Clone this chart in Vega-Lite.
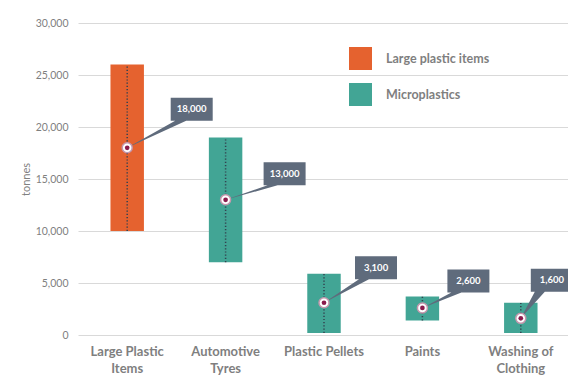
{
  "$schema": "https://vega.github.io/schema/vega-lite/v6.json",
  "autosize": "none",
  "padding": {"left": 78, "top": 23, "right": 0, "bottom": 43},
  "width": 492,
  "height": 312,
  "background": "white",
  "config": {
    "view": {"stroke": null},
    "font": "Lato",
    "axisY": {
      "labelExpr": "format(datum.value, ',')",
      "domain": false,
      "ticks": false,
      "labelPadding": 10,
      "labelFont": "Lato",
      "labelFontSize": 10.5,
      "labelColor": "#7f7f7f",
      "gridColor": "#d9d9d9",
      "gridWidth": 1,
      "titleFont": "Lato",
      "titleFontSize": 11,
      "titleFontWeight": "normal",
      "titleColor": "#7f7f7f",
      "titlePadding": 4
    }
  },
  "data": {
    "values": [
      {"source": "Large Plastic Items", "type": "Large plastic items", "low": 10000, "high": 26000, "mid": 18000},
      {"source": "Automotive Tyres", "type": "Microplastics", "low": 7000, "high": 19000, "mid": 13000},
      {"source": "Plastic Pellets", "type": "Microplastics", "low": 200, "high": 5900, "mid": 3100},
      {"source": "Paints", "type": "Microplastics", "low": 1400, "high": 3700, "mid": 2600},
      {"source": "Washing of Clothing", "type": "Microplastics", "low": 200, "high": 3100, "mid": 1600}
    ]
  },
  "encoding": {
    "x": {
      "field": "source",
      "type": "nominal",
      "sort": null,
      "scale": {"paddingInner": 0.66, "paddingOuter": 0.33},
      "axis": {
        "title": null,
        "domain": false,
        "ticks": false,
        "labelAngle": 0,
        "labelPadding": 10,
        "labelFont": "Lato",
        "labelFontSize": 13,
        "labelFontWeight": "bold",
        "labelColor": "#7f7f7f",
        "labelLineHeight": 17,
        "labelExpr": "datum.label == 'Large Plastic Items' ? ['Large Plastic', 'Items'] : datum.label == 'Automotive Tyres' ? ['Automotive', 'Tyres'] : datum.label == 'Washing of Clothing' ? ['Washing of', 'Clothing'] : datum.label"
      }
    }
  },
  "layer": [
    {
      "mark": {"type": "bar"},
      "encoding": {
        "y": {
          "field": "low",
          "type": "quantitative",
          "scale": {"domain": [0, 30000], "nice": false},
          "axis": {
            "title": "tonnes",
            "values": [0, 5000, 10000, 15000, 20000, 25000, 30000],
            "labelExpr": "format(datum.value, ',')"
          }
        },
        "y2": {"field": "high"},
        "color": {
          "field": "type",
          "type": "nominal",
          "scale": {
            "domain": ["Large plastic items", "Microplastics"],
            "range": ["#e5622f", "#42a595"]
          },
          "legend": {
            "title": null,
            "orient": "none",
            "legendX": 271,
            "legendY": 24,
            "symbolType": "square",
            "symbolSize": 529,
            "symbolStrokeWidth": 0,
            "symbolOpacity": 1,
            "labelFont": "Lato",
            "labelFontSize": 12.5,
            "labelFontWeight": "bold",
            "labelColor": "#7f7f7f",
            "labelOffset": 14,
            "rowPadding": 13
          }
        }
      }
    },
    {
      "mark": {"type": "rule", "color": "#33414f", "strokeWidth": 1.5, "strokeDash": [1.2, 2]},
      "encoding": {
        "y": {"field": "low", "type": "quantitative"},
        "y2": {"field": "high"}
      }
    },
    {
      "mark": {"type": "point", "filled": true, "size": 4, "color": "#5f6b7c", "opacity": 1},
      "encoding": {
        "y": {"field": "mid", "type": "quantitative"},
        "shape": {
          "field": "source",
          "type": "nominal",
          "legend": null,
          "scale": {
            "domain": ["Large Plastic Items", "Automotive Tyres", "Plastic Pellets", "Paints", "Washing of Clothing"],
            "range": [
              "M0,0L48,-27L43.5,-27L43.5,-50L85.5,-50L85.5,-27L59,-27Z",
              "M0,0L42,-14.5L38,-14.5L38,-37.5L80,-37.5L80,-14.5L52,-14.5Z",
              "M0,0L35,-23.5L31,-23.5L31,-46.5L73,-46.5L73,-23.5L45,-23.5Z",
              "M0,0L29,-15.5L25,-15.5L25,-38.5L67,-38.5L67,-15.5L39,-15.5Z",
              "M0,0L14,-26.5L10,-26.5L10,-49.5L52,-49.5L52,-26.5L24,-26.5Z"
            ]
          }
        }
      }
    },
    {
      "mark": {"type": "point", "filled": true, "size": 100, "fill": "#ffffff", "stroke": "#c497ad", "strokeWidth": 1.5, "opacity": 1},
      "encoding": {
        "y": {"field": "mid", "type": "quantitative"}
      }
    },
    {
      "mark": {"type": "point", "filled": true, "size": 22, "color": "#8a1b4c", "opacity": 1},
      "encoding": {
        "y": {"field": "mid", "type": "quantitative"}
      }
    },
    {
      "mark": {
        "type": "text",
        "font": "Lato",
        "fontSize": 9.5,
        "fontWeight": "bold",
        "color": "#ffffff",
        "align": "center",
        "baseline": "middle",
        "dx": {"expr": "datum.source == 'Large Plastic Items' ? 64.5 : datum.source == 'Automotive Tyres' ? 59 : datum.source == 'Plastic Pellets' ? 52 : datum.source == 'Paints' ? 46 : 31"},
        "dy": {"expr": "datum.source == 'Large Plastic Items' ? -38.5 : datum.source == 'Automotive Tyres' ? -26 : datum.source == 'Plastic Pellets' ? -35 : datum.source == 'Paints' ? -27 : -38"}
      },
      "encoding": {
        "y": {"field": "mid", "type": "quantitative"},
        "text": {"field": "mid", "type": "quantitative", "format": ","}
      }
    }
  ]
}
